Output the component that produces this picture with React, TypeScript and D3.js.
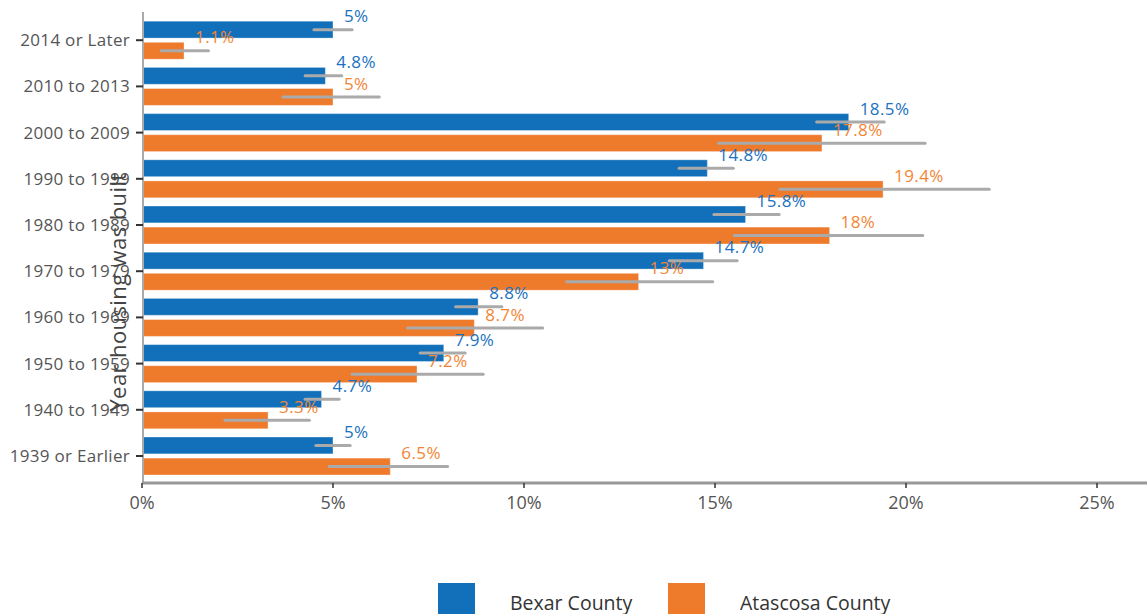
import React from "react";
import * as d3 from "d3";

const categories = [
  "2014 or Later",
  "2010 to 2013",
  "2000 to 2009",
  "1990 to 1999",
  "1980 to 1989",
  "1970 to 1979",
  "1960 to 1969",
  "1950 to 1959",
  "1940 to 1949",
  "1939 or Earlier",
];
const seriesNames = ["Bexar County", "Atascosa County"];
const bexarValues = [5, 4.8, 18.5, 14.8, 15.8, 14.7, 8.8, 7.9, 4.7, 5];
const atascosaValues = [1.1, 5, 17.8, 19.4, 18, 13, 8.7, 7.2, 3.3, 6.5];
const bexarLow = [4.5, 4.27, 17.66, 14.06, 14.97, 13.8, 8.21, 7.28, 4.27, 4.55];
const bexarHigh = [5.5, 5.23, 19.43, 15.48, 16.68, 15.58, 9.42, 8.46, 5.16, 5.45];
const atascosaLow = [0.5, 3.69, 15.09, 16.7, 15.5, 11.12, 6.95, 5.5, 2.17, 4.9];
const atascosaHigh = [1.74, 6.21, 20.5, 22.18, 20.44, 14.94, 10.49, 8.93, 4.38, 8.0];
const xTicks = [0, 5, 10, 15, 20, 25];
const yTitle = "Year housing was built";

const W = 1147;
const H = 614;
const colors = ["#1170b9", "#ee7a2b"];
const labelColors = ["#1a72c0", "#f28535"];
const FONT = "'Open Sans', sans-serif";

export default function App() {
  const x = d3.scaleLinear().domain([0, 25]).range([142, 1097]);
  const y = d3.scaleBand<string>().domain(categories).range([17.1, 479.1]).padding(0);
  const sub = d3.scaleBand<string>().domain(seriesNames).range([-19, 19]).paddingInner(0.2);

  const series = [
    { name: seriesNames[0], values: bexarValues, low: bexarLow, high: bexarHigh },
    { name: seriesNames[1], values: atascosaValues, low: atascosaLow, high: atascosaHigh },
  ];

  const axisY = 483;

  return (
    <svg
      width={W}
      height={H}
      style={{ position: "absolute", left: 0, top: 0, background: "#fff", overflow: "hidden" }}
      fontFamily={FONT}
    >
      {/* bars */}
      {series.map((s, si) =>
        categories.map((c, i) => {
          const cy = (y(c) as number) + y.bandwidth() / 2;
          const top = cy + (sub(s.name) as number);
          return (
            <rect
              key={`b-${si}-${i}`}
              x={x(0)}
              y={top}
              width={x(s.values[i]) - x(0)}
              height={sub.bandwidth()}
              fill={colors[si]}
              stroke="#ffffff"
              strokeOpacity={0.35}
              strokeWidth={1}
            />
          );
        })
      )}
      {/* error bars */}
      {series.map((s, si) =>
        categories.map((c, i) => {
          const cy = (y(c) as number) + y.bandwidth() / 2;
          const mid = cy + (sub(s.name) as number) + sub.bandwidth() / 2;
          return (
            <line
              key={`e-${si}-${i}`}
              x1={x(s.low[i])}
              x2={x(s.high[i])}
              y1={mid}
              y2={mid}
              stroke="#aaaaaa"
              strokeWidth={3}
              strokeLinecap="round"
            />
          );
        })
      )}
      {/* value labels */}
      {series.map((s, si) =>
        categories.map((c, i) => {
          const cy = (y(c) as number) + y.bandwidth() / 2;
          const top = cy + (sub(s.name) as number);
          return (
            <text
              key={`l-${si}-${i}`}
              x={x(s.values[i]) + 11}
              y={top + 1}
              fill={labelColors[si]}
              fontSize={17}
              letterSpacing={0.4}
            >
              {`${s.values[i]}%`}
            </text>
          );
        })
      )}
      {/* y axis */}
      <line x1={143} x2={143} y1={12} y2={axisY} stroke="#aaaaaa" strokeWidth={2} />
      {categories.map((c, i) => {
        const cy = (y(c) as number) + y.bandwidth() / 2;
        return (
          <g key={`yt-${i}`}>
            <line x1={136} x2={143} y1={cy} y2={cy} stroke="#333" strokeWidth={2} />
            <text x={130} y={cy} dy="0.35em" textAnchor="end" fill="#555" fontSize={17} letterSpacing={0.3}>
              {c}
            </text>
          </g>
        );
      })}
      <text
        transform={`translate(126,292) rotate(-90)`}
        textAnchor="middle"
        fill="#444"
        fontSize={22}
        letterSpacing={0.4}
      >
        {yTitle}
      </text>
      {/* x axis */}
      <line x1={142} x2={W} y1={axisY} y2={axisY} stroke="#999999" strokeWidth={3} />
      {xTicks.map((t) => (
        <g key={`xt-${t}`}>
          <line x1={x(t)} x2={x(t)} y1={axisY} y2={axisY + 5} stroke="#333" strokeWidth={1.5} />
          <text x={x(t)} y={503} dy="0.35em" textAnchor="middle" fill="#555" fontSize={18}>
            {`${t}%`}
          </text>
        </g>
      ))}
      {/* legend */}
      {seriesNames.map((n, i) => {
        const lx = i === 0 ? 438 : 668;
        return (
          <g key={`lg-${i}`}>
            <rect x={lx} y={583} width={37} height={37} fill={colors[i]} />
            <text x={lx + 72} y={610} fill="#333" fontSize={19.5}>
              {n}
            </text>
          </g>
        );
      })}
    </svg>
  );
}
